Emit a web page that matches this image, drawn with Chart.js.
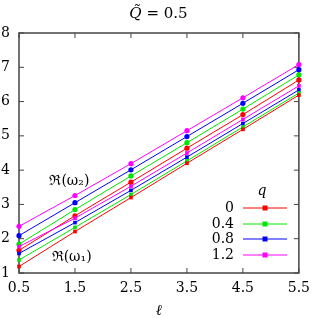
<!DOCTYPE html>
<html>
<head>
<meta charset="utf-8">
<script src="https://cdn.jsdelivr.net/npm/chart.js@4/dist/chart.umd.min.js"></script>
<style>
  html, body { margin: 0; padding: 0; background: #fff; }
  #wrap { width: 317px; height: 318px; }
</style>
</head>
<body>
<div id="wrap"><canvas id="chart"></canvas></div>
<script>
const ellValues = [0.5, 1.5, 2.5, 3.5, 4.5, 5.5];
const yTicks = [1, 2, 3, 4, 5, 6, 7, 8];
const qLabels = ['0', '0.4', '0.8', '1.2'];
const qColors = ['#ff0000', '#00e600', '#0000ff', '#ff00ff'];

// Re(omega_2), upper group, circles
const omega2 = [
  [1.66, 2.67, 3.65, 4.64, 5.62, 6.63],
  [1.84, 2.85, 3.83, 4.80, 5.78, 6.78],
  [2.09, 3.05, 4.01, 4.98, 5.95, 6.93],
  [2.36, 3.26, 4.19, 5.15, 6.11, 7.08],
];
// Re(omega_1), lower group, squares
const omega1 = [
  [1.19, 2.21, 3.20, 4.20, 5.19, 6.19],
  [1.38, 2.33, 3.29, 4.27, 5.26, 6.25],
  [1.57, 2.47, 3.41, 4.38, 5.36, 6.34],
  [1.77, 2.60, 3.53, 4.50, 5.48, 6.46],
];

const FONT = '"DejaVu Serif", "Liberation Serif", serif';

function makeSet(values, i, style) {
  return {
    data: values.map((y, k) => ({ x: ellValues[k], y })),
    borderColor: qColors[i],
    backgroundColor: qColors[i],
    borderWidth: 1,
    pointStyle: style,
    pointRadius: 2.6,
    pointBorderWidth: 0,
    clip: false,
  };
}

const datasets = [];
omega1.forEach((v, i) => datasets.push(makeSet(v, i, 'rect')));
omega2.forEach((v, i) => datasets.push(makeSet(v, i, 'circle')));

const frame = {
  id: 'frame',
  beforeDatasetsDraw(chart) {
    const { ctx, chartArea: a, scales } = chart;
    ctx.save();
    ctx.strokeStyle = '#444';
    ctx.lineWidth = 1.5;
    ctx.strokeRect(a.left, a.top, a.right - a.left, a.bottom - a.top);
    ctx.lineWidth = 1;
    const len = 5;
    ctx.beginPath();
    scales.x.ticks.forEach((t) => {
      const px = scales.x.getPixelForValue(t.value);
      ctx.moveTo(px, a.bottom); ctx.lineTo(px, a.bottom - len);
      ctx.moveTo(px, a.top); ctx.lineTo(px, a.top + len);
    });
    scales.y.ticks.forEach((t) => {
      const py = scales.y.getPixelForValue(t.value);
      ctx.moveTo(a.left, py); ctx.lineTo(a.left + len, py);
      ctx.moveTo(a.right, py); ctx.lineTo(a.right - len, py);
    });
    ctx.stroke();
    ctx.restore();
  },
  afterDraw(chart) {
    const { ctx, scales } = chart;
    const x = scales.x, y = scales.y;
    ctx.save();
    ctx.fillStyle = '#000';
    ctx.textBaseline = 'middle';

    // title
    ctx.font = 'italic 15px ' + FONT;
    const qPart = 'Q\u0303';
    const rest = ' = 0.5';
    const w1 = ctx.measureText(qPart).width;
    ctx.font = '15px ' + FONT;
    const w2 = ctx.measureText(rest).width;
    const tx = chart.width / 2 - (w1 + w2) / 2;
    ctx.font = 'italic 15px ' + FONT;
    ctx.textAlign = 'left';
    ctx.fillText(qPart, tx, 14);
    ctx.font = '15px ' + FONT;
    ctx.fillText(rest, tx + w1, 14);

    // branch labels
    ctx.textAlign = 'center';
    ctx.font = '14px ' + FONT;
    ctx.fillText('\u211C(\u03C9\u2082)', x.getPixelForValue(1.4), y.getPixelForValue(3.68));
    ctx.fillText('\u211C(\u03C9\u2081)', x.getPixelForValue(1.44), y.getPixelForValue(1.47));

    // legend
    const rowY = [208, 224, 239, 255];
    ctx.font = 'italic 14px ' + FONT;
    ctx.fillText('q', 262, 191);
    ctx.font = '14px ' + FONT;
    qLabels.forEach((lab, i) => {
      ctx.textAlign = 'right';
      ctx.fillStyle = '#000';
      ctx.fillText(lab, 234, rowY[i]);
      ctx.strokeStyle = qColors[i];
      ctx.lineWidth = 1;
      ctx.beginPath();
      ctx.moveTo(243, rowY[i]);
      ctx.lineTo(287, rowY[i]);
      ctx.stroke();
      ctx.fillStyle = qColors[i];
      ctx.fillRect(262.5, rowY[i] - 2.5, 5, 5);
    });
    ctx.restore();
  },
};

new Chart(document.getElementById('chart').getContext('2d'), {
  type: 'line',
  data: { datasets },
  plugins: [frame],
  options: {
    responsive: true,
    maintainAspectRatio: false,
    animation: false,
    layout: { padding: { top: 33, right: 15, left: 0, bottom: 0 } },
    scales: {
      x: {
        type: 'linear',
        min: 0.5,
        max: 5.5,
        afterBuildTicks: (scale) => { scale.ticks = ellValues.map((v) => ({ value: v })); },
        afterFit: (scale) => { scale.height = 45; },
        grid: { display: false, drawTicks: false, tickLength: 0 },
        border: { display: false },
        ticks: { color: '#000', font: { family: FONT, size: 14 }, padding: 7, maxRotation: 0,
          callback: (v) => v.toFixed(1) },
        title: { display: true, text: '\u2113', color: '#000', font: { family: FONT, size: 15, style: 'italic' }, padding: { top: 0, bottom: -2 } },
      },
      y: {
        min: 1,
        max: 8,
        afterBuildTicks: (scale) => { scale.ticks = yTicks.map((v) => ({ value: v })); },
        afterFit: (scale) => { scale.width = 19; },
        grid: { display: false, drawTicks: false, tickLength: 0 },
        border: { display: false },
        ticks: { color: '#000', font: { family: FONT, size: 14 }, padding: 9 },
      },
    },
    plugins: {
      legend: { display: false },
      tooltip: { enabled: false },
    },
  },
});
</script>
</body>
</html>
